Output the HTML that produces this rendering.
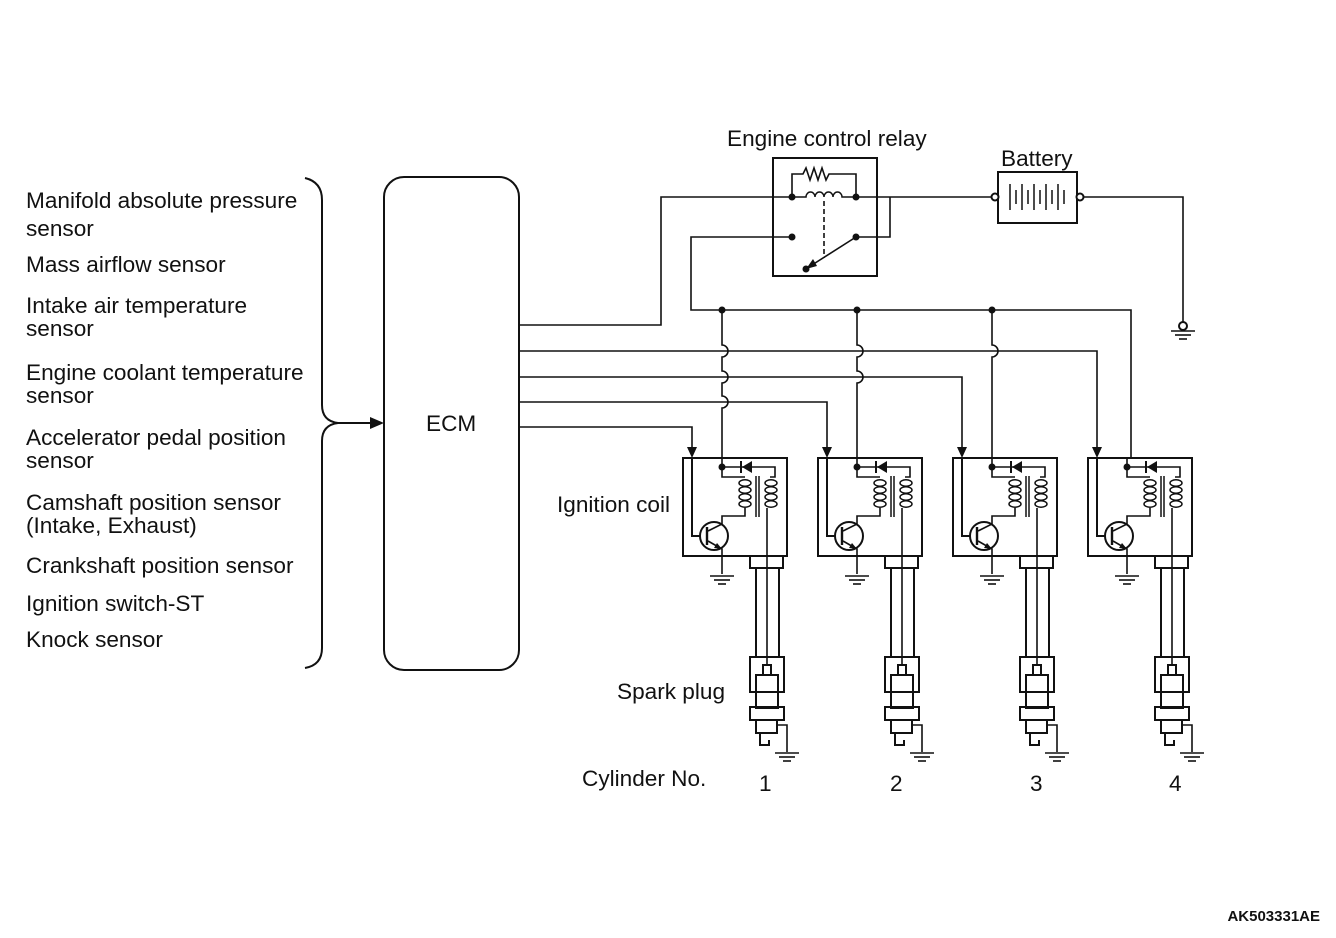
<!DOCTYPE html>
<html><head><meta charset="utf-8"><style>
html,body{margin:0;padding:0;background:#fff;}
svg{display:block;}
text{font-family:"Liberation Sans",sans-serif;fill:#111;}
</style></head><body>
<svg width="1336" height="938" viewBox="0 0 1336 938" xmlns="http://www.w3.org/2000/svg">
<defs>
<g id="gnd" stroke="#111" stroke-width="1.6">
<line x1="-12" y1="0" x2="12" y2="0"/><line x1="-8" y1="4" x2="8" y2="4"/><line x1="-4" y1="8" x2="4" y2="8"/>
</g>
<g id="coil" fill="none" stroke="#111" stroke-width="2">
<rect x="683" y="458" width="104" height="98"/>
<polygon points="687,447 697,447 692,458" fill="#111" stroke="none"/>
<polyline points="692,458 692,536 700,536"/>
<circle cx="722" cy="467" r="3.5" fill="#111" stroke="none"/>
<polyline points="722,467 775,467 775,477 770,477" stroke-width="1.6"/>
<polygon points="752,461 752,473 742,467" fill="#111" stroke="none"/>
<line x1="741" y1="461" x2="741" y2="473"/>
<polyline points="722,467 722,477 745,477" stroke-width="1.6"/>
<g stroke-width="1.5">
<ellipse cx="745" cy="483" rx="6" ry="3.2"/><ellipse cx="745" cy="490" rx="6" ry="3.2"/><ellipse cx="745" cy="497" rx="6" ry="3.2"/><ellipse cx="745" cy="504" rx="6" ry="3.2"/>
<ellipse cx="771" cy="483" rx="6" ry="3.2"/><ellipse cx="771" cy="490" rx="6" ry="3.2"/><ellipse cx="771" cy="497" rx="6" ry="3.2"/><ellipse cx="771" cy="504" rx="6" ry="3.2"/>
</g>
<line x1="756" y1="476" x2="756" y2="517" stroke-width="1.5"/>
<line x1="759" y1="476" x2="759" y2="517" stroke-width="1.5"/>
<polyline points="745,508 745,516 722,516 722,524 708,531" stroke-width="1.6"/>
<polyline points="767,508 767,665" stroke-width="1.6"/>
<circle cx="714" cy="536" r="14"/>
<line x1="707" y1="527" x2="707" y2="545" stroke-width="2.4"/>
<polyline points="708,541 722,549 722,574" stroke-width="1.6"/>
<polygon points="722,549 714,548 717,543" fill="#111" stroke="none"/>
<use href="#gnd" x="722" y="576"/>
<rect x="750" y="556" width="33" height="12"/>
<line x1="756" y1="568" x2="756" y2="657"/><line x1="779" y1="568" x2="779" y2="657"/>
<rect x="750" y="657" width="34" height="35"/>
<rect x="763" y="665" width="8" height="10"/>
<rect x="756" y="675" width="22" height="33"/>
<rect x="750" y="707" width="34" height="13"/>
<rect x="756" y="720" width="21" height="13"/>
<polyline points="760,733 760,745 769,745 769,740"/>
<polyline points="777,725 787,725 787,752" stroke-width="1.6"/>
<use href="#gnd" x="787" y="753"/>
</g>
</defs>

<g font-size="22.6">
<text x="26" y="208">Manifold absolute pressure</text>
<text x="26" y="236">sensor</text>
<text x="26" y="272">Mass airflow sensor</text>
<text x="26" y="313">Intake air temperature</text>
<text x="26" y="336">sensor</text>
<text x="26" y="380">Engine coolant temperature</text>
<text x="26" y="403">sensor</text>
<text x="26" y="445">Accelerator pedal position</text>
<text x="26" y="468">sensor</text>
<text x="26" y="510">Camshaft position sensor</text>
<text x="26" y="533">(Intake, Exhaust)</text>
<text x="26" y="573">Crankshaft position sensor</text>
<text x="26" y="611">Ignition switch-ST</text>
<text x="26" y="647">Knock sensor</text>
<text x="426" y="431">ECM</text>
<text x="727" y="146">Engine control relay</text>
<text x="1001" y="166">Battery</text>
<text x="557" y="512">Ignition coil</text>
<text x="617" y="699">Spark plug</text>
<text x="582" y="786">Cylinder No.</text>
<text x="759" y="791">1</text>
<text x="890" y="791">2</text>
<text x="1030" y="791">3</text>
<text x="1169" y="791">4</text>
</g>
<text x="1320" y="921" font-size="15" font-weight="bold" text-anchor="end">AK503331AE</text>

<g fill="none" stroke="#111" stroke-width="2">
<path d="M305,178 Q322,182 322,200 L322,405 Q322,421 338,423 Q322,425 322,441 L322,648 Q322,665 305,668"/>
<line x1="338" y1="423" x2="370" y2="423"/>
<polygon points="370,417 384,423 370,429" fill="#111" stroke="none"/>
<rect x="384" y="177" width="135" height="493" rx="20"/>

<g stroke-width="1.6">
<polyline points="519,325 661,325 661,197 792,197"/>
<polyline points="856,197 995,197"/>
<polyline points="519,351 1097,351 1097,447"/>
<polyline points="519,377 962,377 962,447"/>
<polyline points="519,402 827,402 827,447"/>
<polyline points="519,427 692,427 692,447"/>
<polyline points="792,237 691,237 691,310 1131,310 1131,458 1127,458"/>
<polyline points="856,237 890,237 890,197"/>
<polyline points="1084,197 1183,197 1183,322"/>
<path d="M722,310 V345 a6,6 0 0 1 0,12 V371 a6,6 0 0 1 0,12 V396 a6,6 0 0 1 0,12 V467"/>
<path d="M857,310 V345 a6,6 0 0 1 0,12 V371 a6,6 0 0 1 0,12 V467"/>
<path d="M992,310 V345 a6,6 0 0 1 0,12 V467"/>
<line x1="1127" y1="458" x2="1127" y2="467"/>
</g>
<circle cx="722" cy="310" r="3.5" fill="#111" stroke="none"/>
<circle cx="857" cy="310" r="3.5" fill="#111" stroke="none"/>
<circle cx="992" cy="310" r="3.5" fill="#111" stroke="none"/>
<circle cx="1183" cy="326" r="4"/>
<use href="#gnd" x="1183" y="331"/>

<rect x="773" y="158" width="104" height="118"/>
<polyline points="792,197 792,174 803,174 806,168 810,180 814,168 818,180 822,168 826,180 829,174 856,174 856,197" stroke-width="1.6"/>
<path d="M792,197 H806 a4.5,5 0 0 1 9,0 a4.5,5 0 0 1 9,0 a4.5,5 0 0 1 9,0 a4.5,5 0 0 1 9,0 H856" stroke-width="1.5"/>
<line x1="824" y1="201" x2="824" y2="258" stroke-dasharray="5,3" stroke-width="1.6"/>
<circle cx="792" cy="197" r="3.5" fill="#111" stroke="none"/>
<circle cx="856" cy="197" r="3.5" fill="#111" stroke="none"/>
<circle cx="792" cy="237" r="3.5" fill="#111" stroke="none"/>
<circle cx="856" cy="237" r="3.5" fill="#111" stroke="none"/>
<circle cx="806" cy="269" r="3.5" fill="#111" stroke="none"/>
<line x1="856" y1="237" x2="812" y2="265" stroke-width="1.6"/>
<polygon points="806,269 813,259 817,266" fill="#111" stroke="none"/>

<rect x="998" y="172" width="79" height="51"/>
<circle cx="995" cy="197" r="3.5" fill="#fff"/>
<circle cx="1080" cy="197" r="3.5" fill="#fff"/>
<g stroke-width="1.5">
<line x1="1010" y1="184" x2="1010" y2="210"/><line x1="1016" y1="190" x2="1016" y2="204"/>
<line x1="1022" y1="184" x2="1022" y2="210"/><line x1="1028" y1="190" x2="1028" y2="204"/>
<line x1="1034" y1="184" x2="1034" y2="210"/><line x1="1040" y1="190" x2="1040" y2="204"/>
<line x1="1046" y1="184" x2="1046" y2="210"/><line x1="1052" y1="190" x2="1052" y2="204"/>
<line x1="1058" y1="184" x2="1058" y2="210"/><line x1="1064" y1="190" x2="1064" y2="204"/>
</g>
</g>

<use href="#coil"/>
<use href="#coil" x="135"/>
<use href="#coil" x="270"/>
<use href="#coil" x="405"/>
</svg>
</body></html>
